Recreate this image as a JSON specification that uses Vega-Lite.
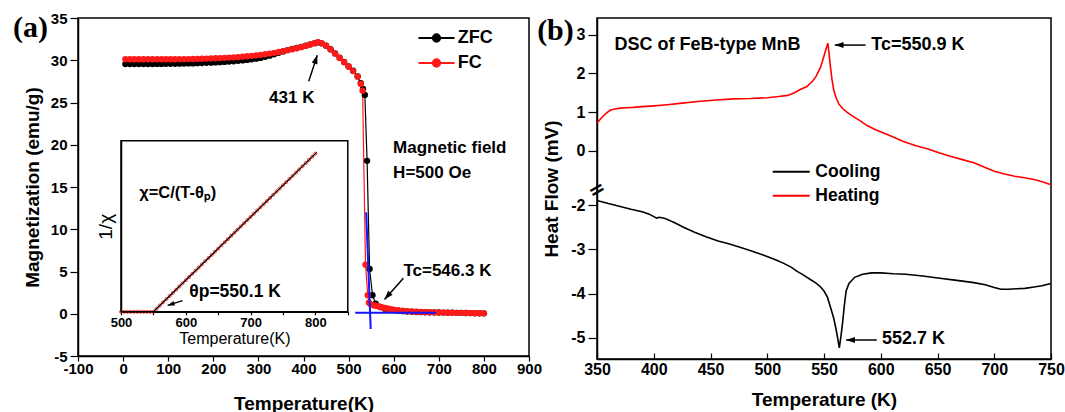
{
  "$schema": "https://vega.github.io/schema/vega-lite/v6.json",
  "background": "white",
  "padding": {"left": 12, "top": 10, "right": 0, "bottom": 0},
  "bounds": "flush",
  "spacing": 68,
  "config": {
    "view": {"stroke": "black", "strokeWidth": 1.5},
    "font": "Liberation Sans",
    "axis": {"labelFont": "Liberation Sans", "titleFont": "Liberation Sans", "labelFontWeight": "bold", "titleFontWeight": "bold", "labelColor": "black", "titleColor": "black", "domainColor": "black", "tickColor": "black", "domainWidth": 1.5, "tickWidth": 1.2, "grid": false, "labelOverlap": false, "labelBound": false, "labelFlush": false},
    "legend": {"labelFont": "Liberation Sans", "labelFontWeight": "bold", "labelColor": "black", "padding": 0}
  },
  "resolve": {"scale": {"color": "independent"}},
  "datasets": {
    "mag": [
      {"T":5,"M":29.55,"s":"ZFC"},{"T":15,"M":29.55,"s":"ZFC"},{"T":25,"M":29.55,"s":"ZFC"},{"T":35,"M":29.55,"s":"ZFC"},{"T":45,"M":29.55,"s":"ZFC"},{"T":55,"M":29.56,"s":"ZFC"},{"T":65,"M":29.56,"s":"ZFC"},{"T":75,"M":29.57,"s":"ZFC"},{"T":85,"M":29.57,"s":"ZFC"},{"T":95,"M":29.58,"s":"ZFC"},
      {"T":105,"M":29.58,"s":"ZFC"},{"T":115,"M":29.59,"s":"ZFC"},{"T":125,"M":29.6,"s":"ZFC"},{"T":135,"M":29.61,"s":"ZFC"},{"T":145,"M":29.62,"s":"ZFC"},{"T":155,"M":29.63,"s":"ZFC"},{"T":165,"M":29.65,"s":"ZFC"},{"T":175,"M":29.67,"s":"ZFC"},{"T":185,"M":29.69,"s":"ZFC"},{"T":195,"M":29.71,"s":"ZFC"},
      {"T":205,"M":29.74,"s":"ZFC"},{"T":215,"M":29.77,"s":"ZFC"},{"T":225,"M":29.8,"s":"ZFC"},{"T":235,"M":29.84,"s":"ZFC"},{"T":245,"M":29.88,"s":"ZFC"},{"T":255,"M":29.93,"s":"ZFC"},{"T":265,"M":29.98,"s":"ZFC"},{"T":275,"M":30.04,"s":"ZFC"},{"T":285,"M":30.11,"s":"ZFC"},{"T":295,"M":30.19,"s":"ZFC"},
      {"T":305,"M":30.28,"s":"ZFC"},{"T":315,"M":30.4,"s":"ZFC"},{"T":325,"M":30.54,"s":"ZFC"},{"T":335,"M":30.7,"s":"ZFC"},{"T":345,"M":30.88,"s":"ZFC"},{"T":355,"M":31.05,"s":"ZFC"},{"T":365,"M":31.2,"s":"ZFC"},{"T":375,"M":31.33,"s":"ZFC"},{"T":385,"M":31.45,"s":"ZFC"},{"T":395,"M":31.58,"s":"ZFC"},
      {"T":405,"M":31.72,"s":"ZFC"},{"T":415,"M":31.88,"s":"ZFC"},{"T":425,"M":32.02,"s":"ZFC"},{"T":432,"M":32.12,"s":"ZFC"},{"T":440,"M":32.0,"s":"ZFC"},{"T":450,"M":31.72,"s":"ZFC"},{"T":460,"M":31.3,"s":"ZFC"},{"T":470,"M":30.82,"s":"ZFC"},{"T":480,"M":30.32,"s":"ZFC"},{"T":490,"M":29.8,"s":"ZFC"},
      {"T":500,"M":29.28,"s":"ZFC"},{"T":510,"M":28.76,"s":"ZFC"},{"T":520,"M":28.1,"s":"ZFC"},{"T":527,"M":27.3,"s":"ZFC"},{"T":532,"M":26.6,"s":"ZFC"},{"T":536,"M":25.9,"s":"ZFC"},{"T":541,"M":18.1,"s":"ZFC"},{"T":546.5,"M":5.3,"s":"ZFC"},{"T":553,"M":2.2,"s":"ZFC"},{"T":560,"M":1.2,"s":"ZFC"},
      {"T":570,"M":0.8,"s":"ZFC"},{"T":580,"M":0.6,"s":"ZFC"},{"T":590,"M":0.5,"s":"ZFC"},{"T":600,"M":0.42,"s":"ZFC"},{"T":610,"M":0.36,"s":"ZFC"},{"T":620,"M":0.31,"s":"ZFC"},{"T":630,"M":0.27,"s":"ZFC"},{"T":640,"M":0.24,"s":"ZFC"},{"T":650,"M":0.21,"s":"ZFC"},{"T":660,"M":0.19,"s":"ZFC"},
      {"T":670,"M":0.18,"s":"ZFC"},{"T":680,"M":0.17,"s":"ZFC"},{"T":690,"M":0.16,"s":"ZFC"},{"T":700,"M":0.15,"s":"ZFC"},{"T":710,"M":0.14,"s":"ZFC"},{"T":720,"M":0.13,"s":"ZFC"},{"T":730,"M":0.12,"s":"ZFC"},{"T":740,"M":0.11,"s":"ZFC"},{"T":750,"M":0.1,"s":"ZFC"},{"T":760,"M":0.09,"s":"ZFC"},
      {"T":770,"M":0.08,"s":"ZFC"},{"T":780,"M":0.07,"s":"ZFC"},{"T":790,"M":0.06,"s":"ZFC"},{"T":800,"M":0.05,"s":"ZFC"},
      {"T":5,"M":30.12,"s":"FC"},{"T":15,"M":30.12,"s":"FC"},{"T":25,"M":30.12,"s":"FC"},{"T":35,"M":30.12,"s":"FC"},{"T":45,"M":30.12,"s":"FC"},{"T":55,"M":30.12,"s":"FC"},{"T":65,"M":30.12,"s":"FC"},{"T":75,"M":30.12,"s":"FC"},{"T":85,"M":30.12,"s":"FC"},{"T":95,"M":30.12,"s":"FC"},
      {"T":105,"M":30.12,"s":"FC"},{"T":115,"M":30.12,"s":"FC"},{"T":125,"M":30.13,"s":"FC"},{"T":135,"M":30.13,"s":"FC"},{"T":145,"M":30.14,"s":"FC"},{"T":155,"M":30.15,"s":"FC"},{"T":165,"M":30.16,"s":"FC"},{"T":175,"M":30.18,"s":"FC"},{"T":185,"M":30.2,"s":"FC"},{"T":195,"M":30.22,"s":"FC"},
      {"T":205,"M":30.24,"s":"FC"},{"T":215,"M":30.26,"s":"FC"},{"T":225,"M":30.29,"s":"FC"},{"T":235,"M":30.32,"s":"FC"},{"T":245,"M":30.35,"s":"FC"},{"T":255,"M":30.38,"s":"FC"},{"T":265,"M":30.42,"s":"FC"},{"T":275,"M":30.47,"s":"FC"},{"T":285,"M":30.52,"s":"FC"},{"T":295,"M":30.58,"s":"FC"},
      {"T":305,"M":30.64,"s":"FC"},{"T":315,"M":30.71,"s":"FC"},{"T":325,"M":30.79,"s":"FC"},{"T":335,"M":30.88,"s":"FC"},{"T":345,"M":30.98,"s":"FC"},{"T":355,"M":31.08,"s":"FC"},{"T":365,"M":31.19,"s":"FC"},{"T":375,"M":31.3,"s":"FC"},{"T":385,"M":31.42,"s":"FC"},{"T":395,"M":31.55,"s":"FC"},
      {"T":405,"M":31.7,"s":"FC"},{"T":415,"M":31.86,"s":"FC"},{"T":425,"M":32.02,"s":"FC"},{"T":432,"M":32.15,"s":"FC"},{"T":440,"M":32.02,"s":"FC"},{"T":450,"M":31.72,"s":"FC"},{"T":460,"M":31.28,"s":"FC"},{"T":470,"M":30.78,"s":"FC"},{"T":480,"M":30.27,"s":"FC"},{"T":490,"M":29.76,"s":"FC"},
      {"T":500,"M":29.24,"s":"FC"},{"T":510,"M":28.72,"s":"FC"},{"T":520,"M":28.05,"s":"FC"},{"T":527,"M":27.2,"s":"FC"},{"T":531,"M":26.4,"s":"FC"},{"T":537.5,"M":5.8,"s":"FC"},{"T":542.5,"M":2.2,"s":"FC"},{"T":545,"M":1.3,"s":"FC"},{"T":550,"M":1.1,"s":"FC"},{"T":555,"M":1.0,"s":"FC"},
      {"T":560,"M":0.95,"s":"FC"},{"T":565,"M":0.9,"s":"FC"},{"T":570,"M":0.82,"s":"FC"},{"T":575,"M":0.75,"s":"FC"},{"T":580,"M":0.68,"s":"FC"},{"T":585,"M":0.62,"s":"FC"},{"T":590,"M":0.57,"s":"FC"},{"T":595,"M":0.52,"s":"FC"},{"T":600,"M":0.48,"s":"FC"},{"T":610,"M":0.41,"s":"FC"},
      {"T":620,"M":0.36,"s":"FC"},{"T":630,"M":0.31,"s":"FC"},{"T":640,"M":0.27,"s":"FC"},{"T":650,"M":0.24,"s":"FC"},{"T":660,"M":0.22,"s":"FC"},{"T":670,"M":0.2,"s":"FC"},{"T":680,"M":0.18,"s":"FC"},{"T":690,"M":0.17,"s":"FC"},{"T":700,"M":0.15,"s":"FC"},{"T":710,"M":0.14,"s":"FC"},
      {"T":720,"M":0.13,"s":"FC"},{"T":730,"M":0.12,"s":"FC"},{"T":740,"M":0.11,"s":"FC"},{"T":750,"M":0.1,"s":"FC"},{"T":760,"M":0.09,"s":"FC"},{"T":770,"M":0.08,"s":"FC"},{"T":780,"M":0.07,"s":"FC"},{"T":790,"M":0.06,"s":"FC"},{"T":800,"M":0.05,"s":"FC"}
    ],
    "blue": [
      {"T":539,"M":12.0,"seg":"steep"},{"T":549,"M":-1.8,"seg":"steep"},
      {"T":514.6,"M":0.12,"seg":"flat"},{"T":694,"M":0.12,"seg":"flat"}
    ],
    "chi": [
      {"T":500,"v":0},{"T":505,"v":0},{"T":510,"v":0},{"T":515,"v":0},{"T":520,"v":0},{"T":525,"v":0},{"T":530,"v":0},{"T":535,"v":0},{"T":540,"v":0},{"T":545,"v":0},{"T":550,"v":0},
      {"T":555,"v":0.37},{"T":560,"v":0.74},{"T":565,"v":1.11},{"T":570,"v":1.48},{"T":575,"v":1.85},{"T":580,"v":2.22},{"T":585,"v":2.59},{"T":590,"v":2.96},{"T":595,"v":3.33},{"T":600,"v":3.7},
      {"T":605,"v":4.07},{"T":610,"v":4.44},{"T":615,"v":4.81},{"T":620,"v":5.18},{"T":625,"v":5.55},{"T":630,"v":5.92},{"T":635,"v":6.29},{"T":640,"v":6.66},{"T":645,"v":7.03},{"T":650,"v":7.4},
      {"T":655,"v":7.77},{"T":660,"v":8.14},{"T":665,"v":8.51},{"T":670,"v":8.88},{"T":675,"v":9.25},{"T":680,"v":9.62},{"T":685,"v":9.99},{"T":690,"v":10.36},{"T":695,"v":10.73},{"T":700,"v":11.1},
      {"T":705,"v":11.47},{"T":710,"v":11.84},{"T":715,"v":12.21},{"T":720,"v":12.58},{"T":725,"v":12.95},{"T":730,"v":13.32},{"T":735,"v":13.69},{"T":740,"v":14.06},{"T":745,"v":14.43},{"T":750,"v":14.8},
      {"T":755,"v":15.17},{"T":760,"v":15.54},{"T":765,"v":15.91},{"T":770,"v":16.28},{"T":775,"v":16.65},{"T":780,"v":17.02},{"T":785,"v":17.39},{"T":790,"v":17.76},{"T":795,"v":18.13},{"T":800,"v":18.5}
    ],
    "fit": [{"T":550,"v":0},{"T":802,"v":18.65}],
    "dsc": [
      {"T":350,"H":0.71,"s":"Heating"},{"T":353,"H":0.82,"s":"Heating"},{"T":356,"H":0.91,"s":"Heating"},{"T":359,"H":0.99,"s":"Heating"},{"T":362,"H":1.05,"s":"Heating"},{"T":366,"H":1.08,"s":"Heating"},{"T":370,"H":1.1,"s":"Heating"},{"T":376,"H":1.11,"s":"Heating"},{"T":382,"H":1.12,"s":"Heating"},{"T":390,"H":1.14,"s":"Heating"},
      {"T":400,"H":1.16,"s":"Heating"},{"T":412,"H":1.19,"s":"Heating"},{"T":425,"H":1.23,"s":"Heating"},{"T":441,"H":1.28,"s":"Heating"},{"T":455,"H":1.31,"s":"Heating"},{"T":470,"H":1.34,"s":"Heating"},{"T":485,"H":1.35,"s":"Heating"},{"T":500,"H":1.37,"s":"Heating"},{"T":510,"H":1.4,"s":"Heating"},{"T":518,"H":1.43,"s":"Heating"},
      {"T":524,"H":1.5,"s":"Heating"},{"T":529,"H":1.58,"s":"Heating"},{"T":535,"H":1.66,"s":"Heating"},{"T":540,"H":1.8,"s":"Heating"},{"T":543,"H":1.92,"s":"Heating"},{"T":547,"H":2.16,"s":"Heating"},{"T":549,"H":2.35,"s":"Heating"},{"T":550.5,"H":2.5,"s":"Heating"},{"T":552,"H":2.65,"s":"Heating"},{"T":553.4,"H":2.78,"s":"Heating"},
      {"T":554.5,"H":2.5,"s":"Heating"},{"T":555.7,"H":2.16,"s":"Heating"},{"T":557,"H":1.85,"s":"Heating"},{"T":558.6,"H":1.56,"s":"Heating"},{"T":560.5,"H":1.38,"s":"Heating"},{"T":563,"H":1.21,"s":"Heating"},{"T":566.5,"H":1.09,"s":"Heating"},{"T":570.4,"H":0.99,"s":"Heating"},{"T":576,"H":0.88,"s":"Heating"},{"T":582,"H":0.77,"s":"Heating"},
      {"T":588,"H":0.65,"s":"Heating"},{"T":595,"H":0.55,"s":"Heating"},{"T":603,"H":0.45,"s":"Heating"},{"T":611.5,"H":0.35,"s":"Heating"},{"T":620,"H":0.24,"s":"Heating"},{"T":631,"H":0.13,"s":"Heating"},{"T":641,"H":0.05,"s":"Heating"},{"T":652,"H":-0.06,"s":"Heating"},{"T":662,"H":-0.15,"s":"Heating"},{"T":672,"H":-0.23,"s":"Heating"},
      {"T":682,"H":-0.31,"s":"Heating"},{"T":691,"H":-0.42,"s":"Heating"},{"T":700,"H":-0.53,"s":"Heating"},{"T":709,"H":-0.6,"s":"Heating"},{"T":718,"H":-0.66,"s":"Heating"},{"T":727,"H":-0.7,"s":"Heating"},{"T":736,"H":-0.75,"s":"Heating"},{"T":743,"H":-0.81,"s":"Heating"},{"T":750,"H":-0.88,"s":"Heating"},
      {"T":350,"H":-1.89,"s":"Cooling"},{"T":360,"H":-1.96,"s":"Cooling"},{"T":369.6,"H":-2.02,"s":"Cooling"},{"T":380,"H":-2.09,"s":"Cooling"},{"T":390.6,"H":-2.15,"s":"Cooling"},{"T":396,"H":-2.2,"s":"Cooling"},{"T":402.6,"H":-2.29,"s":"Cooling"},{"T":405,"H":-2.27,"s":"Cooling"},{"T":410,"H":-2.3,"s":"Cooling"},{"T":418,"H":-2.39,"s":"Cooling"},
      {"T":426.7,"H":-2.5,"s":"Cooling"},{"T":436,"H":-2.61,"s":"Cooling"},{"T":446,"H":-2.71,"s":"Cooling"},{"T":456.7,"H":-2.81,"s":"Cooling"},{"T":466,"H":-2.87,"s":"Cooling"},{"T":476,"H":-2.95,"s":"Cooling"},{"T":486.8,"H":-3.04,"s":"Cooling"},{"T":497,"H":-3.13,"s":"Cooling"},{"T":507.8,"H":-3.24,"s":"Cooling"},{"T":515,"H":-3.32,"s":"Cooling"},
      {"T":521,"H":-3.4,"s":"Cooling"},{"T":526,"H":-3.49,"s":"Cooling"},{"T":532,"H":-3.58,"s":"Cooling"},{"T":538,"H":-3.68,"s":"Cooling"},{"T":543,"H":-3.76,"s":"Cooling"},{"T":547,"H":-3.85,"s":"Cooling"},{"T":550,"H":-3.94,"s":"Cooling"},{"T":553,"H":-4.08,"s":"Cooling"},{"T":556,"H":-4.33,"s":"Cooling"},{"T":558.5,"H":-4.55,"s":"Cooling"},
      {"T":560.5,"H":-4.79,"s":"Cooling"},{"T":562,"H":-5.0,"s":"Cooling"},{"T":563.5,"H":-5.23,"s":"Cooling"},{"T":565,"H":-4.95,"s":"Cooling"},{"T":566.5,"H":-4.63,"s":"Cooling"},{"T":568,"H":-4.25,"s":"Cooling"},{"T":569.5,"H":-3.94,"s":"Cooling"},{"T":572,"H":-3.77,"s":"Cooling"},{"T":577,"H":-3.63,"s":"Cooling"},{"T":584,"H":-3.56,"s":"Cooling"},
      {"T":592,"H":-3.53,"s":"Cooling"},{"T":600,"H":-3.53,"s":"Cooling"},{"T":611,"H":-3.55,"s":"Cooling"},{"T":622,"H":-3.56,"s":"Cooling"},{"T":637,"H":-3.6,"s":"Cooling"},{"T":652,"H":-3.65,"s":"Cooling"},{"T":667,"H":-3.7,"s":"Cooling"},{"T":682,"H":-3.75,"s":"Cooling"},{"T":692,"H":-3.8,"s":"Cooling"},{"T":700,"H":-3.86,"s":"Cooling"},
      {"T":706,"H":-3.9,"s":"Cooling"},{"T":712,"H":-3.9,"s":"Cooling"},{"T":720,"H":-3.89,"s":"Cooling"},{"T":727,"H":-3.88,"s":"Cooling"},{"T":735,"H":-3.85,"s":"Cooling"},{"T":742,"H":-3.82,"s":"Cooling"},{"T":750,"H":-3.77,"s":"Cooling"}
    ]
  },
  "hconcat": [
    {
      "width": 451,
      "height": 338,
      "resolve": {"scale": {"x": "independent", "y": "independent"}},
      "layer": [
        {
          "layer": [
            {
              "data": {"name": "mag"},
              "mark": {"type": "line", "strokeWidth": 1.2},
              "encoding": {
                "x": {"field": "T", "type": "quantitative", "scale": {"domain": [-100, 900], "nice": false, "zero": false},
                  "axis": {"title": "Temperature(K)", "values": [-100,-50,0,50,100,150,200,250,300,350,400,450,500,550,600,650,700,750,800,850,900], "labelExpr": "datum.value % 100 === 0 ? '' + datum.value : ''", "tickSize": {"condition": {"test": "datum.value % 100 === 0", "value": 5}, "value": 3}, "labelPadding": 0, "labelFontSize": 15, "titleFontSize": 19, "titlePadding": 18}},
                "y": {"field": "M", "type": "quantitative", "scale": {"domain": [-5, 35], "nice": false, "zero": false},
                  "axis": {"title": "Magnetization (emu/g)", "values": [-5,-2.5,0,2.5,5,7.5,10,12.5,15,17.5,20,22.5,25,27.5,30,32.5,35], "labelExpr": "datum.value % 5 === 0 ? '' + datum.value : ''", "tickSize": {"condition": {"test": "datum.value % 5 === 0", "value": 8}, "value": 4}, "labelPadding": 3, "labelFontSize": 15, "titleFontSize": 19, "titlePadding": 8}},
                "color": {"field": "s", "type": "nominal", "scale": {"domain": ["ZFC", "FC"], "range": ["black", "#ff1a1a"]},
                  "legend": {"title": null, "orient": "none", "legendX": 349.5, "legendY": 11, "symbolType": "M-3.6,0L3.6,0M-0.75,0A0.75,0.75,0,1,1,0.75,0A0.75,0.75,0,1,1,-0.75,0M-0.45,0A0.45,0.45,0,1,1,0.45,0A0.45,0.45,0,1,1,-0.45,0M-0.15,0A0.15,0.15,0,1,1,0.15,0A0.15,0.15,0,1,1,-0.15,0", "symbolSize": 100, "symbolStrokeWidth": 1.8, "labelOffset": 12.3, "labelFontSize": 18, "rowPadding": 7}}
              }
            },
            {
              "data": {"name": "mag"},
              "mark": {"type": "point", "filled": true, "size": 40, "opacity": 1},
              "encoding": {
                "x": {"field": "T", "type": "quantitative"},
                "y": {"field": "M", "type": "quantitative"},
                "color": {"field": "s", "type": "nominal"}
              }
            },
            {
              "data": {"name": "blue"},
              "mark": {"type": "line", "color": "#1414ff", "strokeWidth": 2},
              "encoding": {
                "x": {"field": "T", "type": "quantitative"},
                "y": {"field": "M", "type": "quantitative"},
                "detail": {"field": "seg", "type": "nominal"}
              }
            },
            {
              "data": {"values": [{}]},
              "mark": {"type": "rule", "color": "black", "strokeWidth": 1.5},
              "encoding": {"x": {"datum": 411.5}, "y": {"datum": 27.5}, "x2": {"datum": 430.6}, "y2": {"datum": 30.6}}
            },
            {
              "data": {"values": [{}]},
              "mark": {"type": "point", "shape": "M0,0L0.75,2.2L-0.75,2.2Z", "filled": true, "color": "black", "size": 64, "angle": 18.2, "opacity": 1},
              "encoding": {"x": {"datum": 430.6}, "y": {"datum": 30.6}}
            },
            {
              "data": {"values": [{}]},
              "mark": {"type": "rule", "color": "black", "strokeWidth": 1.5},
              "encoding": {"x": {"datum": 621.5}, "y": {"datum": 4.2}, "x2": {"datum": 579.6}, "y2": {"datum": 1.7}}
            },
            {
              "data": {"values": [{}]},
              "mark": {"type": "point", "shape": "M0,0L0.75,2.2L-0.75,2.2Z", "filled": true, "color": "black", "size": 64, "angle": 221.8, "opacity": 1},
              "encoding": {"x": {"datum": 579.6}, "y": {"datum": 1.7}}
            },
            {
              "data": {"values": [{}]},
              "mark": {"type": "text", "font": "Liberation Sans", "fontWeight": "bold", "fontSize": 17, "align": "left", "baseline": "middle", "color": "black", "text": "431 K"},
              "encoding": {"x": {"datum": 323.7}, "y": {"datum": 25.5}}
            },
            {
              "data": {"values": [{}]},
              "mark": {"type": "text", "font": "Liberation Sans", "fontWeight": "bold", "fontSize": 17, "align": "left", "baseline": "middle", "color": "black", "text": "Magnetic field"},
              "encoding": {"x": {"datum": 598.7}, "y": {"datum": 19.64}}
            },
            {
              "data": {"values": [{}]},
              "mark": {"type": "text", "font": "Liberation Sans", "fontWeight": "bold", "fontSize": 17, "align": "left", "baseline": "middle", "color": "black", "text": "H=500 Oe"},
              "encoding": {"x": {"datum": 598.7}, "y": {"datum": 16.66}}
            },
            {
              "data": {"values": [{}]},
              "mark": {"type": "text", "font": "Liberation Sans", "fontWeight": "bold", "fontSize": 17, "align": "left", "baseline": "middle", "color": "black", "text": "Tc=546.3 K"},
              "encoding": {"x": {"datum": 621.5}, "y": {"datum": 5.04}}
            },
            {
              "data": {"values": [{}]},
              "mark": {"type": "text", "font": "Liberation Serif", "fontWeight": "bold", "fontSize": 30, "align": "center", "baseline": "middle", "color": "black", "text": "(a)"},
              "encoding": {"x": {"datum": -205.3}, "y": {"datum": 33.8}}
            }
          ]
        },
        {
          "layer": [
            {
              "data": {"name": "chi"},
              "mark": {"type": "point", "filled": false, "color": "#ff1a1a", "size": 10, "strokeWidth": 0.8, "opacity": 1},
              "encoding": {
                "x": {"field": "T", "type": "quantitative", "scale": {"domain": [500, 850], "range": [43, 269.8], "nice": false, "zero": false},
                  "axis": {"orient": "bottom", "offset": -44.2, "title": "Temperature(K)", "titleFontWeight": "normal", "titleFontSize": 16, "titlePadding": 1, "values": [500,550,600,650,700,750,800,850], "labelExpr": "datum.value % 100 === 0 ? '' + datum.value : ''", "tickSize": 3, "labelPadding": 2, "labelFontSize": 13}},
                "y": {"field": "v", "type": "quantitative", "scale": {"domain": [0, 20], "range": [293.8, 122.8], "nice": false, "zero": false},
                  "axis": {"orient": "left", "offset": -43, "title": "1/χ", "titleFontWeight": "normal", "titleFontSize": 19, "titlePadding": 6, "ticks": false, "labels": false}}
              }
            },
            {
              "data": {"name": "fit"},
              "mark": {"type": "line", "color": "black", "strokeWidth": 1.3},
              "encoding": {"x": {"field": "T", "type": "quantitative"}, "y": {"field": "v", "type": "quantitative"}}
            },
            {
              "data": {"values": [{}]},
              "mark": {"type": "rect", "filled": false, "stroke": "black", "strokeWidth": 1.5},
              "encoding": {"x": {"datum": 500}, "x2": {"datum": 850}, "y": {"datum": 0}, "y2": {"datum": 20}}
            },
            {
              "data": {"values": [{}]},
              "mark": {"type": "text", "font": "Liberation Sans", "fontWeight": "bold", "fontSize": 16.5, "align": "left", "baseline": "middle", "color": "black", "text": "χ=C/(T-θₚ)"},
              "encoding": {"x": {"datum": 528}, "y": {"datum": 13.95}}
            },
            {
              "data": {"values": [{}]},
              "mark": {"type": "text", "font": "Liberation Sans", "fontWeight": "bold", "fontSize": 17.5, "align": "left", "baseline": "middle", "color": "black", "text": "θp=550.1 K"},
              "encoding": {"x": {"datum": 605.3}, "y": {"datum": 2.34}}
            },
            {
              "data": {"values": [{}]},
              "mark": {"type": "rule", "color": "black", "strokeWidth": 1.3},
              "encoding": {"x": {"datum": 595}, "y": {"datum": 1.32}, "x2": {"datum": 572}, "y2": {"datum": 0.74}}
            },
            {
              "data": {"values": [{}]},
              "mark": {"type": "point", "shape": "M0,0L0.75,2.2L-0.75,2.2Z", "filled": true, "color": "black", "size": 40, "angle": 251.3, "opacity": 1},
              "encoding": {"x": {"datum": 572}, "y": {"datum": 0.74}}
            }
          ]
        }
      ]
    },
    {
      "width": 454,
      "height": 341,
      "layer": [
        {
          "data": {"name": "dsc"},
          "mark": {"type": "line", "strokeWidth": 1.6},
          "encoding": {
            "x": {"field": "T", "type": "quantitative", "scale": {"domain": [350, 750], "nice": false, "zero": false},
              "axis": {"title": "Temperature (K)", "values": [350,375,400,425,450,475,500,525,550,575,600,625,650,675,700,725,750], "labelExpr": "datum.value % 50 === 0 ? '' + datum.value : ''", "tickSize": {"condition": {"test": "datum.value % 50 === 0", "value": -6}, "value": -3}, "labelPadding": 8, "labelFontSize": 16, "titleFontSize": 19, "titlePadding": 13}},
            "y": {"field": "H", "type": "quantitative", "scale": {"domain": [-5.48, -1.653, -1.015, 3.43], "range": [341, 172, 172, 0], "nice": false, "zero": false},
              "axis": {"title": "Heat Flow (mV)", "values": [-5,-4.5,-4,-3.5,-3,-2.5,-2,-0.5,0,0.5,1,1.5,2,2.5,3], "labelExpr": "datum.value % 1 === 0 ? '' + datum.value : ''", "tickSize": {"condition": {"test": "datum.value % 1 === 0", "value": 9}, "value": 4}, "labelPadding": 3, "labelFontSize": 16, "titleFontSize": 19, "titlePadding": 9}},
            "color": {"field": "s", "type": "nominal", "scale": {"domain": ["Cooling", "Heating"], "range": ["black", "#ff0000"]},
              "legend": {"title": null, "orient": "none", "legendX": 185.5, "legendY": 145, "symbolType": "M-3.7,0L3.7,0", "symbolSize": 100, "symbolStrokeWidth": 2, "labelOffset": 15.3, "labelFontSize": 17.5, "rowPadding": 5}}
          }
        },
        {
          "data": {"values": [{}]},
          "mark": {"type": "text", "font": "Liberation Sans", "fontWeight": "bold", "fontSize": 18, "align": "left", "baseline": "middle", "color": "black", "text": "DSC of FeB-type MnB"},
          "encoding": {"x": {"datum": 365.4}, "y": {"datum": 2.72}}
        },
        {
          "data": {"values": [{}]},
          "mark": {"type": "text", "font": "Liberation Sans", "fontWeight": "bold", "fontSize": 18, "align": "left", "baseline": "middle", "color": "black", "text": "Tc=550.9 K"},
          "encoding": {"x": {"datum": 591.6}, "y": {"datum": 2.73}}
        },
        {
          "data": {"values": [{}]},
          "mark": {"type": "text", "font": "Liberation Sans", "fontWeight": "bold", "fontSize": 18, "align": "left", "baseline": "middle", "color": "black", "text": "552.7 K"},
          "encoding": {"x": {"datum": 601}, "y": {"datum": -5.02}}
        },
        {
          "data": {"values": [{}]},
          "mark": {"type": "rule", "color": "black", "strokeWidth": 1.5},
          "encoding": {"x": {"datum": 586.6}, "y": {"datum": 2.73}, "x2": {"datum": 559.5}, "y2": {"datum": 2.73}}
        },
        {
          "data": {"values": [{}]},
          "mark": {"type": "point", "shape": "M0,0L0.75,2.2L-0.75,2.2Z", "filled": true, "color": "black", "size": 64, "angle": 270, "opacity": 1},
          "encoding": {"x": {"datum": 559.5}, "y": {"datum": 2.73}}
        },
        {
          "data": {"values": [{}]},
          "mark": {"type": "rule", "color": "black", "strokeWidth": 1.5},
          "encoding": {"x": {"datum": 596.5}, "y": {"datum": -5.05}, "x2": {"datum": 569.5}, "y2": {"datum": -5.05}}
        },
        {
          "data": {"values": [{}]},
          "mark": {"type": "point", "shape": "M0,0L0.75,2.2L-0.75,2.2Z", "filled": true, "color": "black", "size": 64, "angle": 270, "opacity": 1},
          "encoding": {"x": {"datum": 569.5}, "y": {"datum": -5.05}}
        },
        {
          "data": {"values": [{}]},
          "mark": {"type": "text", "font": "DejaVu Sans", "fontWeight": "bold", "fontSize": 20, "align": "center", "baseline": "middle", "angle": -30, "color": "black", "text": "="},
          "encoding": {"x": {"datum": 350}, "y": {"datum": -1.3}}
        },
        {
          "data": {"values": [{}]},
          "mark": {"type": "text", "font": "Liberation Serif", "fontWeight": "bold", "fontSize": 30, "align": "center", "baseline": "middle", "color": "black", "text": "(b)"},
          "encoding": {"x": {"datum": 313.4}, "y": {"datum": 3.1}}
        }
      ]
    }
  ]
}
